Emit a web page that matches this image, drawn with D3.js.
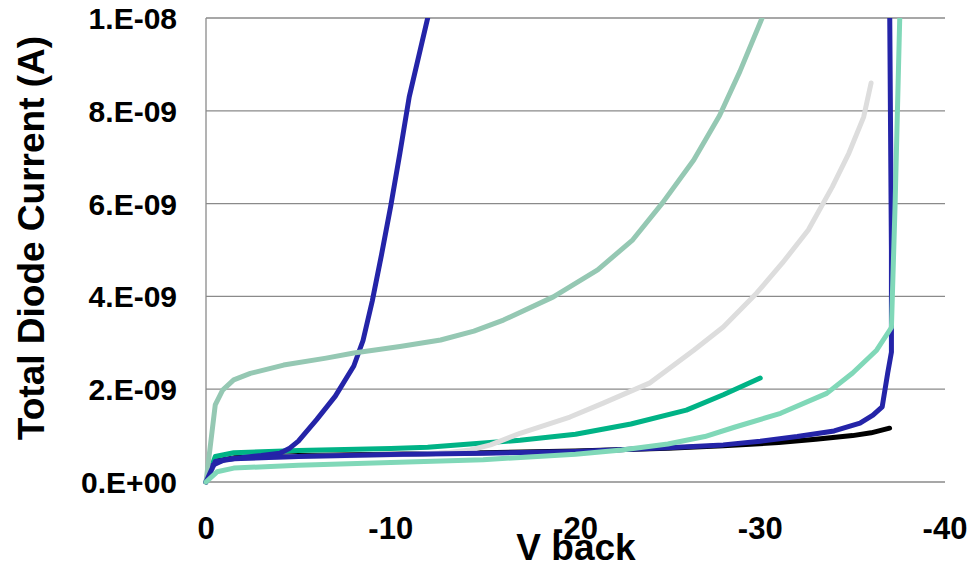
<!DOCTYPE html>
<html>
<head>
<meta charset="utf-8">
<script src="https://cdn.jsdelivr.net/npm/d3@7"></script>
<style>
  body { margin: 0; background: #fff; }
  svg { display: block; }
  text { font-family: "Liberation Sans", Arial, sans-serif; font-weight: bold; fill: #000; }
</style>
</head>
<body>
<svg id="chart"></svg>
<script>
// tick values / labels
const xTicks = [0, -10, -20, -30, -40];
const yTicks = [0, 2, 4, 6, 8, 10]; // units of 1e-9 A
const yTickLabels = ["0.E+00", "2.E-09", "4.E-09", "6.E-09", "8.E-09", "1.E-08"];

// series: [V back, current in nA]
const blackSeries = [[0,0],[-0.5,0.45],[-1.5,0.52],[-5,0.57],[-10,0.6],[-15,0.63],[-20,0.67],[-25,0.73],[-28,0.78],[-31,0.85],[-33,0.92],[-35,1.0],[-36,1.06],[-37,1.16]];
const tealSeries = [[0,0],[-0.5,0.55],[-1.5,0.63],[-5,0.68],[-10,0.72],[-12,0.75],[-15,0.84],[-17,0.9],[-20,1.03],[-23,1.25],[-26,1.55],[-28,1.88],[-30,2.24]];
const graySeries = [[0,0],[-0.5,0.42],[-1.5,0.5],[-5,0.55],[-10,0.58],[-13,0.63],[-14.3,0.69],[-15.4,0.8],[-17,1.05],[-19.7,1.4],[-21.5,1.7],[-24,2.13],[-26.4,2.84],[-28,3.34],[-29.8,4.07],[-31.2,4.72],[-32.6,5.43],[-33.9,6.36],[-34.8,7.09],[-35.6,7.87],[-36,8.6]];
const blueEarly = [[0,0],[-0.3,0.35],[-1,0.48],[-2,0.53],[-3,0.57],[-4,0.62],[-4.5,0.72],[-5,0.88],[-6,1.35],[-7,1.85],[-8,2.5],[-8.5,3.05],[-9,3.9],[-9.5,4.9],[-10,5.95],[-10.5,7.1],[-11,8.3],[-12,10.0],[-12.1,10.3]];
const sageSeries = [[0,0],[-0.5,1.66],[-0.9,1.98],[-1.5,2.2],[-2.4,2.34],[-4.2,2.52],[-6.5,2.67],[-8,2.78],[-10.5,2.92],[-12.7,3.06],[-14.5,3.25],[-16.1,3.49],[-18.8,3.99],[-21.2,4.57],[-23.1,5.22],[-24.7,6.01],[-26.4,6.94],[-27.8,7.9],[-28.9,8.85],[-30.1,10.0],[-30.2,10.3]];
const blueLate = [[0,0],[-0.5,0.44],[-1.5,0.5],[-5,0.55],[-10,0.59],[-15,0.62],[-20,0.66],[-25,0.74],[-28,0.8],[-30,0.88],[-32,0.98],[-34,1.1],[-35.4,1.27],[-36.1,1.44],[-36.6,1.62],[-36.9,2.35],[-37.1,2.8],[-37.1,5],[-37.0,10.5]];
const mintSeries = [[0,0],[-0.6,0.22],[-1.5,0.3],[-5,0.36],[-10,0.42],[-15,0.48],[-20,0.6],[-22.5,0.69],[-25,0.82],[-27,0.98],[-28.6,1.18],[-31.1,1.48],[-33.6,1.91],[-35,2.35],[-36.3,2.84],[-37.1,3.33],[-37.3,6],[-37.55,10],[-37.56,10.5]];

const seriesList = [
  { data: blackSeries, color: "#000000" },
  { data: tealSeries, color: "#00b386" },
  { data: graySeries, color: "#dddddd" },
  { data: blueEarly, color: "#2424a8" },
  { data: sageSeries, color: "#95c8b3" },
  { data: blueLate, color: "#2424a8" },
  { data: mintSeries, color: "#80d8b8" }
];

const chartWidth = 980, chartHeight = 564;
const plotLeft = 206, plotRight = 945, plotTop = 18, plotBottom = 482;

const svg = d3.select("#chart").attr("width", chartWidth).attr("height", chartHeight);

const x = d3.scaleLinear().domain([0, -40]).range([plotLeft, plotRight]);
const y = d3.scaleLinear().domain([0, 10]).range([plotBottom, plotTop]);

// gridlines
svg.append("g")
  .selectAll("line")
  .data(yTicks)
  .enter()
  .append("line")
  .attr("x1", plotLeft)
  .attr("x2", plotRight)
  .attr("y1", d => y(d))
  .attr("y2", d => y(d))
  .attr("stroke", "#8a8a8a")
  .attr("stroke-width", 1.3);

// left axis line
svg.append("line")
  .attr("x1", plotLeft).attr("x2", plotLeft)
  .attr("y1", plotTop).attr("y2", plotBottom)
  .attr("stroke", "#8a8a8a")
  .attr("stroke-width", 1.3);

// y tick labels
svg.append("g")
  .selectAll("text")
  .data(yTicks)
  .enter()
  .append("text")
  .attr("x", 177)
  .attr("y", d => y(d) + 11)
  .attr("text-anchor", "end")
  .style("font-size", "30px")
  .text((d, i) => yTickLabels[i]);

// x tick labels
svg.append("g")
  .selectAll("text")
  .data(xTicks)
  .enter()
  .append("text")
  .attr("x", d => x(d))
  .attr("y", 539)
  .attr("text-anchor", "middle")
  .style("font-size", "31px")
  .text(d => d);

// clip for the plot area
svg.append("clipPath")
  .attr("id", "plot-clip")
  .append("rect")
  .attr("x", plotLeft - 4)
  .attr("y", plotTop)
  .attr("width", plotRight - plotLeft + 8)
  .attr("height", plotBottom - plotTop + 6);

const line = d3.line()
  .x(d => x(d[0]))
  .y(d => y(d[1]));

svg.append("g")
  .attr("clip-path", "url(#plot-clip)")
  .selectAll("path")
  .data(seriesList)
  .enter()
  .append("path")
  .attr("d", d => line(d.data))
  .attr("fill", "none")
  .attr("stroke", d => d.color)
  .attr("stroke-width", 5)
  .attr("stroke-linecap", "round")
  .attr("stroke-linejoin", "round");

// axis titles
svg.append("text")
  .attr("transform", "translate(44, 238) rotate(-90)")
  .attr("text-anchor", "middle")
  .style("font-size", "37px")
  .text("Total Diode Current (A)");

svg.append("text")
  .attr("x", 576)
  .attr("y", 560)
  .attr("text-anchor", "middle")
  .style("font-size", "37px")
  .text("V back");
</script>
</body>
</html>
